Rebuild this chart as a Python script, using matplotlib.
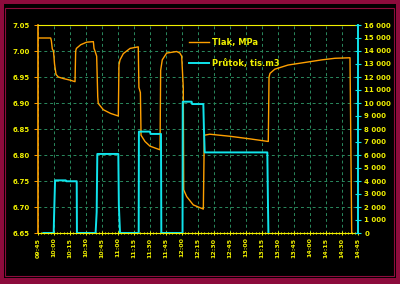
import matplotlib.pyplot as plt
from matplotlib.patches import Rectangle
from matplotlib.ticker import MultipleLocator

# minutes since 09:45
tlak_t = [0.6, 11.9, 12.5, 13.4, 14.5, 15.5, 16.9, 19, 23.8, 30, 34.7, 35.3, 36, 40, 45.6,
          51.9, 52.5, 53.4, 55, 56, 56.5, 61.3, 68, 75.3, 75.9, 76.9, 80, 86.3, 94, 94.6,
          96, 96.6, 100.3, 105, 114.4, 115, 116.5, 120.6, 130, 133, 134.7, 136.2, 136.6,
          139.4, 145.6, 155, 155.9, 161, 180, 198.75, 215.9, 216.6, 217.5, 222, 234.4,
          250.3, 266.25, 278.4, 292.5, 294.1]
tlak = [7.025, 7.025, 7.02, 7.004, 7.0, 6.975, 6.955, 6.95, 6.947, 6.944, 6.941, 7.0, 7.005,
        7.012, 7.017, 7.018, 7.005, 7.0, 6.99, 6.912, 6.899, 6.887, 6.88, 6.875, 6.973,
        6.983, 6.995, 7.005, 7.008, 6.93, 6.92, 6.838, 6.826, 6.817, 6.81, 6.963, 6.983,
        6.996, 6.999, 6.996, 6.99, 6.93, 6.733, 6.72, 6.704, 6.696, 6.838, 6.84, 6.836,
        6.831, 6.826, 6.95, 6.957, 6.965, 6.973, 6.978, 6.983, 6.986, 6.987, 6.65]

prutok_t = [5, 14.7, 15, 16, 26, 26.5, 36.3, 36.5, 54, 55, 55.6, 75.3, 75.8, 76.9, 94.4,
            94.6, 105, 105.5, 115.3, 115.6, 135.5, 135.7, 144, 144.5, 155, 155.5, 156.3,
            215, 215.5, 216]
prutok = [0, 0, 1100, 4050, 4050, 3980, 3980, 0, 0, 1600, 6080, 6080, 2150, 0, 0,
          7800, 7800, 7620, 7620, 0, 0, 10100, 10100, 9920, 9920, 8180, 6200,
          6200, 2790, 0]

x_labels = ["09:45", "10:00", "10:15", "10:30", "10:45", "11:00", "11:15", "11:30",
            "11:45", "12:00", "12:15", "12:30", "12:45", "13:00", "13:15", "13:30",
            "13:45", "14:00", "14:15", "14:30", "14:45"]
left_ticks = [6.65, 6.70, 6.75, 6.80, 6.85, 6.90, 6.95, 7.00, 7.05]
right_ticks = list(range(0, 16001, 1000))

maroon = "#8c0b3c"
yellow = "#f0f000"
orange = "#ffa000"
cyan = "#10e4ec"
green = "#2a8a5e"

fig = plt.figure(figsize=(4, 2.84), dpi=100, facecolor=maroon)
fig.patches.append(Rectangle((3.5/400, 6.3/284), 392.5/400, 274.2/284, transform=fig.transFigure,
                             facecolor="black", edgecolor="none", zorder=-2))
fig.patches.append(Rectangle((5/400, 8/284), 388.5/400, 268/284, transform=fig.transFigure,
                             facecolor="none", edgecolor=maroon, lw=0.8, zorder=-1))

ax = fig.add_axes([38/400, 1 - 233/284, 320/400, 208/284])
ax.set_facecolor("black")
ax2 = ax.twinx()

l1, = ax.plot(tlak_t, tlak, color=orange, lw=1.0, label="Tlak, MPa")
l2, = ax2.plot(prutok_t, prutok, color=cyan, lw=1.4, label="Průtok, tis.m3")

ax.set_xlim(0, 300)
ax.set_ylim(6.65, 7.05)
ax2.set_ylim(0, 16000)

xt = [15 * i for i in range(len(x_labels))]
ax.set_xticks(xt)
ax.set_xticklabels(x_labels, rotation=90, color=yellow, fontsize=4.5, fontweight="bold")
ax.xaxis.set_minor_locator(MultipleLocator(3))
ax.tick_params(axis="x", which="both", colors=yellow, direction="inout", length=2.5, width=0.7, pad=2)
ax.tick_params(axis="x", which="minor", length=1.8)
for lb in ax.get_xticklabels():
    lb.set_color(yellow)

ax.set_yticks(left_ticks)
ax.set_yticklabels(["%.2f" % v for v in left_ticks], fontsize=5, fontweight="bold")
ax.tick_params(axis="y", colors=orange, length=3, width=0.7, pad=3, labelcolor=yellow)

ax2.set_yticks(right_ticks)
ax2.set_yticklabels([("%d" % v) if v < 1000 else "%d %03d" % (v // 1000, v % 1000) for v in right_ticks],
                    fontsize=5, fontweight="bold")
ax2.tick_params(axis="y", colors=cyan, direction="inout", length=4, width=0.8, pad=2.5, labelcolor=yellow)

ax.grid(True, color=green, ls=(0, (3, 3)), lw=0.7)
ax.set_axisbelow(True)

ax.spines["left"].set_color(orange)
ax.spines["bottom"].set_color(yellow)
ax.spines["top"].set_color(yellow)
ax.spines["right"].set_visible(False)
for s in ["left", "bottom", "top"]:
    ax2.spines[s].set_visible(False)
ax2.spines["right"].set_color(cyan)
ax2.spines["right"].set_linewidth(1.4)
ax.spines["left"].set_linewidth(1.2)

fig.legend(handles=[l1, l2], loc="upper left", bbox_to_anchor=(189/400, 1 - 38/284),
           frameon=False, fontsize=6, labelcolor=yellow, handlelength=2.4, handletextpad=0.4,
           labelspacing=1.4, borderpad=0, borderaxespad=0, prop={"size": 6, "weight": "bold"})

fig.savefig("out.png", dpi=100, facecolor=maroon)
